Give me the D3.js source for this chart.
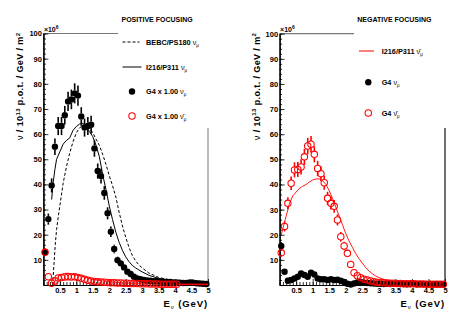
<!DOCTYPE html>
<html>
<head>
<meta charset="utf-8">
<script src="https://cdn.jsdelivr.net/npm/d3@7"></script>
<style>
  body { margin: 0; background: #fff; }
  text { font-family: 'Liberation Sans', Arial, Helvetica, sans-serif; font-weight: bold; }
</style>
</head>
<body>
<svg id="chart" width="473" height="320"></svg>
<script>
// bins of 0.1 GeV from 0 to 5
const binCenters = d3.range(50).map((i) => 0.05 + 0.1 * i);
const binWidth = 0.1;

const yMajor = [10, 20, 30, 40, 50, 60, 70, 80, 90, 100];
const xMajor = [0.5, 1, 1.5, 2, 2.5, 3, 3.5, 4, 4.5, 5];
const xLabels = ['0.5', '1', '1.5', '2', '2.5', '3', '3.5', '4', '4.5', '5'];

// positive focusing, G4 nu_mu
const posNu = [13, 26.2, 39.6, 55, 63.2, 63.2, 67.5, 73, 73.8, 76.2,
  75.3, 67, 62.6, 63.2, 63.7, 54.3, 45.3, 43.3, 36.6, 28.5,
  21.2, 14.3, 9.9, 8.6, 7, 5.3, 4.4, 3.3, 2.6, 2.3,
  2.0, 1.8, 1.7, 1.5, 1.6, 1.4, 1.3, 1.2, 1.2, 1.0,
  1.0, 0.9, 0.8, 0.8, 1.0, 0.9, 0.7, 0.6, 0.5, 0.4];
const posNuErr = [1.5, 2.2, 2.8, 3.3, 3.6, 3.6, 3.7, 3.8, 3.9, 4.0,
  4.0, 3.7, 3.6, 3.6, 3.6, 3.3, 3.0, 2.9, 2.7, 2.4,
  2.1, 1.7, 1.4, 1.3, 1.2, 1.0, 0.9, 0.8, 0.7, 0.7,
  0.6, 0.6, 0.6, 0.5, 0.6, 0.5, 0.5, 0.5, 0.5, 0.5,
  0.5, 0.4, 0.4, 0.4, 0.5, 0.4, 0.4, 0.4, 0.3, 0.3];

// positive focusing, G4 anti-nu_mu
const posNuBar = [13, 3.3, 0.7, 1.6, 2.8, 3.0, 3.2, 3.3, 3.2, 3.3,
  3.0, 2.7, 2.3, 1.9, 1.6, 1.4, 1.3, 1.2, 1.1, 1.0,
  0.9, 0.9, 0.8, 0.8, 0.7, 0.7, 0.6, 0.6, 0.6, 0.5,
  0.5, 0.5, 0.4, 0.4, 0.4, 0.3, 0.3, 0.3, 0.3, 0.3,
  0.3, 0, 0, 0, 0, 0, 0, 0, 0, 0];
const posNuBarErr = [1.5, 0.8, 0.4, 0.5, 0.7, 0.7, 0.7, 0.7, 0.7, 0.7,
  0.7, 0.6, 0.6, 0.5, 0.5, 0.5, 0.4, 0.4, 0.4, 0.4,
  0.3, 0.3, 0.3, 0.3, 0.3, 0.3, 0.3, 0.3, 0.3, 0.2,
  0.2, 0.2, 0.2, 0.2, 0.2, 0.2, 0.2, 0.2, 0.2, 0.2,
  0.2, 0, 0, 0, 0, 0, 0, 0, 0, 0];

// negative focusing, G4 nu_mu
const negNu = [15.5, 5.3, 1.7, 2.0, 2.6, 3.3, 4.6, 4.0, 3.3, 4.9,
  4.2, 2.6, 2.3, 2.3, 2.0, 2.3, 2.0, 2.1, 1.7, 1.2,
  0.5, 0.2, 0.6, 1.0, 1.1, 0.9, 0.8, 0.7, 0.6, 0.5,
  0.5, 0.4, 0.5, 0.4, 0.5, 0.5, 0.4, 0.4, 0.3, 0.4,
  0.5, 0.3, 0.4, 0.3, 0.3, 0.4, 0.3, 0.3, 0.3, 0.2];
const negNuErr = [1.6, 0.9, 0.5, 0.5, 0.6, 0.7, 0.8, 0.8, 0.7, 0.8,
  0.8, 0.6, 0.6, 0.6, 0.5, 0.6, 0.5, 0.5, 0.5, 0.4,
  0.3, 0.2, 0.3, 0.4, 0.4, 0.4, 0.3, 0.3, 0.3, 0.3,
  0.3, 0.2, 0.3, 0.2, 0.3, 0.3, 0.2, 0.2, 0.2, 0.2,
  0.3, 0.2, 0.2, 0.2, 0.2, 0.2, 0.2, 0.2, 0.2, 0.2];

// negative focusing, G4 anti-nu_mu
const negNuBar = [12.8, 23.3, 32.5, 40.5, 45.8, 46, 47, 51, 55.3, 56,
  52, 46.4, 44.3, 40.7, 34.5, 32.5, 31.3, 25.9, 19.2, 15.5,
  12.6, 8.2, 4.9, 3.7, 2.9, 2.3, 2.0, 1.6, 1.3, 1.1,
  1.0, 0.9, 0.8, 0.7, 0.7, 0.6, 0.6, 0.5, 0.5, 0.5,
  0.5, 0.4, 0.4, 0.4, 0.3, 0.3, 0.3, 0.3, 0.3, 0.3];
const negNuBarErr = [1.5, 2.0, 2.4, 2.7, 3.0, 3.0, 3.0, 3.2, 3.3, 3.3,
  3.2, 3.0, 2.9, 2.8, 2.6, 2.5, 2.5, 2.2, 1.9, 1.7,
  1.5, 1.2, 0.9, 0.8, 0.7, 0.6, 0.6, 0.5, 0.5, 0.4,
  0.4, 0.4, 0.4, 0.3, 0.3, 0.3, 0.3, 0.3, 0.3, 0.3,
  0.3, 0.3, 0.3, 0.3, 0.2, 0.2, 0.2, 0.2, 0.2, 0.2];

// reference curves [E, value]
const bebcPS180Nu = [[0.28, 0], [0.32, 8], [0.36, 16], [0.4, 22], [0.45, 27], [0.5, 31.5],
  [0.6, 40.5], [0.7, 47], [0.8, 52.5], [0.9, 57], [1.0, 60.5], [1.1, 62.5], [1.2, 63.5],
  [1.3, 63.6], [1.4, 62.5], [1.5, 60.5], [1.6, 58], [1.7, 55.5], [1.8, 52], [1.9, 48],
  [2.0, 43.5], [2.1, 39.5], [2.2, 35], [2.3, 29], [2.4, 23.5], [2.5, 19], [2.6, 15],
  [2.7, 11.8], [2.8, 9.6], [2.9, 8], [3.0, 6.8], [3.2, 4.8], [3.5, 3], [4.0, 1.6],
  [4.5, 1.0], [5.0, 0.6]];
const i216Nu = [[0.25, 34], [0.3, 41], [0.35, 46], [0.4, 50], [0.5, 53], [0.6, 56],
  [0.7, 57.5], [0.8, 58.5], [0.85, 60], [0.9, 61.5], [1.0, 63], [1.1, 64], [1.2, 64.3],
  [1.3, 63], [1.4, 61], [1.5, 59], [1.6, 55.5], [1.7, 51], [1.8, 44], [1.9, 38],
  [2.0, 31.5], [2.1, 26], [2.2, 21], [2.3, 17], [2.4, 13.8], [2.5, 11.2], [2.6, 9.3],
  [2.7, 7.8], [2.8, 6.8], [2.9, 6], [3.0, 5.2], [3.2, 3.9], [3.5, 2.6], [4.0, 1.5],
  [4.5, 1.0], [5.0, 0.7]];
const i216NuBarPos = [[0.27, 0.3], [0.35, 1.5], [0.4, 2.8], [0.5, 3.8], [0.6, 4.4],
  [0.7, 4.7], [0.8, 4.6], [0.9, 4.3], [1.0, 4.0], [1.2, 3.3], [1.4, 2.6], [1.6, 2.0],
  [1.8, 1.6], [2.0, 1.3], [2.5, 0.8], [3.0, 0.5], [4.0, 0.3], [5.0, 0.2]];
const i216NuBarNeg = [[0.05, 20], [0.1, 22.5], [0.2, 27.5], [0.3, 32.5], [0.4, 35.5],
  [0.5, 37], [0.6, 38.5], [0.7, 39.3], [0.8, 40], [0.9, 41], [1.0, 41.8], [1.1, 42.2],
  [1.2, 42.2], [1.3, 41.5], [1.4, 40], [1.5, 37.5], [1.6, 34.5], [1.7, 31], [1.8, 27.5],
  [1.9, 24], [2.0, 20.5], [2.1, 17.5], [2.2, 15], [2.3, 12.5], [2.4, 10.5], [2.5, 8.7],
  [2.6, 7], [2.7, 5.6], [2.8, 4.5], [2.9, 3.6], [3.0, 3], [3.2, 2], [3.5, 1.3],
  [4.0, 0.9], [4.5, 0.7], [5.0, 0.6]];

const red = '#ff0000';
const svg = d3.select('#chart');
svg.append('rect').attr('width', 473).attr('height', 320).attr('fill', '#fff');

function drawPanel(p) {
  const x = d3.scaleLinear().domain([0, 5]).range([p.left, p.right]);
  const y = d3.scaleLinear().domain([0, 100]).range([285, p.top]);
  const g = svg.append('g');

  // frame pieces left visible next to the legend
  g.append('line')
    .attr('x1', p.left).attr('x2', p.topEnd)
    .attr('y1', y(100)).attr('y2', y(100))
    .attr('stroke', '#777').attr('stroke-width', 1.2);
  g.append('line')
    .attr('x1', x(5)).attr('x2', x(5))
    .attr('y1', 128).attr('y2', 285)
    .attr('stroke', p.frameColor).attr('stroke-width', 1.2);

  // axes, ROOT style ticks pointing inside
  const yMinorAxis = g.append('g').attr('transform', `translate(${p.left},0)`)
    .call(d3.axisLeft(y).tickValues(d3.range(0, 101, 2)).tickSize(-2.5).tickSizeOuter(0).tickFormat(''));
  const yAxis = g.append('g').attr('transform', `translate(${p.left},0)`)
    .call(d3.axisLeft(y).tickValues(yMajor).tickSize(-5).tickSizeOuter(0).tickPadding(1.5).tickFormat(d3.format('d')));
  const xMinorAxis = g.append('g').attr('transform', 'translate(0,285)')
    .call(d3.axisBottom(x).tickValues(d3.range(0, 5.01, 0.1)).tickSize(-3).tickSizeOuter(0).tickFormat(''));
  const xAxis = g.append('g').attr('transform', 'translate(0,285)')
    .call(d3.axisBottom(x).tickValues(xMajor).tickSize(-6).tickSizeOuter(0).tickPadding(4)
      .tickFormat((d, i) => xLabels[i]));
  [yMinorAxis, yAxis, xMinorAxis, xAxis].forEach((a) => {
    a.selectAll('line').attr('stroke', '#000').attr('stroke-width', 0.8);
    a.select('.domain').attr('stroke', '#000').attr('stroke-width', 1.2);
    a.selectAll('text').attr('font-size', 7.5).attr('font-family', null).attr('fill', '#000');
  });
  xAxis.selectAll('text').attr('dy', '0.5em');

  // x10^6 multiplier
  const mult = g.append('text').attr('x', p.left + 0.5).attr('y', y(100) - 1.5).attr('font-size', 7);
  mult.append('tspan').text('\u00d710');
  mult.append('tspan').attr('font-size', 5).attr('dy', -3).text('6');

  // y title
  const yt = g.append('text')
    .attr('transform', `translate(${p.left - 20},${y(100) - 1}) rotate(-90)`)
    .attr('text-anchor', 'end').attr('font-size', 9).attr('letter-spacing', 0.4);
  yt.append('tspan').attr('font-weight', 'normal').text('\u03bd');
  yt.append('tspan').text(' / 10');
  yt.append('tspan').attr('font-size', 6).attr('dy', -3.5).text('13');
  yt.append('tspan').attr('dy', 3.5).text(' p.o.t. / GeV / m');
  yt.append('tspan').attr('font-size', 6).attr('dy', -3.5).text('2');

  // x title
  const xt = g.append('text').attr('x', x(5)).attr('y', 307).attr('text-anchor', 'end')
    .attr('font-size', 9.5).attr('letter-spacing', 0.9);
  xt.append('tspan').text('E');
  xt.append('tspan').attr('font-size', 6).attr('dy', 2).attr('font-weight', 'normal').text('\u03bd');
  xt.append('tspan').attr('dy', -2).text('  (GeV)');

  const line = d3.line().x((d) => x(d[0])).y((d) => y(d[1]));
  p.curves.forEach((c) => {
    g.append('path').datum(c.data).attr('d', line)
      .attr('fill', 'none').attr('stroke', c.color).attr('stroke-width', c.width || 1)
      .attr('stroke-dasharray', c.dash || null);
  });

  p.points.forEach((s) => {
    const r = s.open ? 3.2 : 3.2;
    const pts = binCenters.map((e, i) => ({ e, v: s.values[i], err: s.errors[i] }));
    const pg = g.append('g');
    // empty bins only show their bin-wide bar on the axis
    pg.selectAll('line.ex').data(pts.filter((d) => d.v === 0)).join('line')
      .attr('x1', (d) => x(d.e - binWidth / 2)).attr('x2', (d) => x(d.e + binWidth / 2))
      .attr('y1', (d) => y(d.v) - 0.6).attr('y2', (d) => y(d.v) - 0.6)
      .attr('stroke', s.color).attr('stroke-width', 1.6);
    // error bars stop at the marker edge
    const withErr = pts.filter((d) => d.v > 0 && y(d.v - d.err) - y(d.v + d.err) > 2 * r);
    pg.selectAll('line.up').data(withErr).join('line')
      .attr('x1', (d) => x(d.e)).attr('x2', (d) => x(d.e))
      .attr('y1', (d) => y(d.v) - r).attr('y2', (d) => y(d.v + d.err))
      .attr('stroke', s.color).attr('stroke-width', 1.6);
    pg.selectAll('line.down').data(withErr).join('line')
      .attr('x1', (d) => x(d.e)).attr('x2', (d) => x(d.e))
      .attr('y1', (d) => y(d.v) + r).attr('y2', (d) => y(d.v - d.err))
      .attr('stroke', s.color).attr('stroke-width', 1.6);
    pg.selectAll('circle').data(pts.filter((d) => d.v > 0)).join('circle')
      .attr('cx', (d) => x(d.e)).attr('cy', (d) => y(d.v))
      .attr('r', r)
      .attr('fill', s.open ? 'none' : s.color)
      .attr('stroke', s.color).attr('stroke-width', s.open ? 1.05 : 0);
  });

  // legend
  const lg = svg.append('g');
  lg.append('text').attr('x', p.legendTitleX).attr('y', 21.5).attr('font-size', 7).text(p.title);
  p.legend.forEach((item) => {
    if (item.kind === 'line') {
      lg.append('line').attr('x1', item.sx).attr('x2', item.sx + item.len)
        .attr('y1', item.y).attr('y2', item.y)
        .attr('stroke', item.color).attr('stroke-width', 1)
        .attr('stroke-dasharray', item.dash || null);
    } else {
      lg.append('circle').attr('cx', item.sx).attr('cy', item.y).attr('r', 3.2)
        .attr('fill', item.open ? 'none' : item.color)
        .attr('stroke', item.color).attr('stroke-width', item.open ? 1.05 : 0);
    }
    const t = lg.append('text').attr('x', p.legendTextX).attr('y', item.y + 2.6).attr('font-size', 7.3);
    t.append('tspan').text(item.label);
    t.append('tspan').attr('font-weight', 'normal').text(item.bar ? ' \u03bd\u0304' : ' \u03bd');
    t.append('tspan').attr('font-size', 4.5).attr('dy', 2).attr('font-weight', 'normal').text('\u03bc');
  });
}

drawPanel({
  left: 43.4, right: 208, top: 33.5, topEnd: 118, frameColor: '#8a8a8a',
  title: 'POSITIVE FOCUSING', legendTitleX: 121.5, legendTextX: 146,
  curves: [
    { data: bebcPS180Nu, color: '#000', dash: '3,2' },
    { data: i216Nu, color: '#000' },
    { data: i216NuBarPos, color: red, width: 0.8 }
  ],
  points: [
    { values: posNu, errors: posNuErr, color: '#000', open: false },
    { values: posNuBar, errors: posNuBarErr, color: red, open: true }
  ],
  legend: [
    { kind: 'line', sx: 122.5, len: 17, y: 42, color: '#000', dash: '3,2', label: 'BEBC/PS180' },
    { kind: 'line', sx: 122.5, len: 19, y: 67, color: '#000', label: 'I216/P311' },
    { kind: 'marker', sx: 132, y: 91.5, color: '#000', label: 'G4 x 1.00' },
    { kind: 'marker', sx: 132, y: 116, color: red, open: true, bar: true, label: 'G4 x 1.00' }
  ]
});

drawPanel({
  left: 279.6, right: 445, top: 33.7, topEnd: 354, frameColor: '#111',
  title: 'NEGATIVE FOCUSING', legendTitleX: 357.3, legendTextX: 381.7,
  curves: [
    { data: i216NuBarNeg, color: red, width: 0.9 }
  ],
  points: [
    { values: negNu, errors: negNuErr, color: '#000', open: false },
    { values: negNuBar, errors: negNuBarErr, color: red, open: true }
  ],
  legend: [
    { kind: 'line', sx: 359, len: 15, y: 51, color: red, bar: true, label: 'I216/P311' },
    { kind: 'marker', sx: 368.3, y: 82.3, color: '#000', label: 'G4' },
    { kind: 'marker', sx: 368.3, y: 113, color: red, open: true, bar: true, label: 'G4' }
  ]
});
</script>
</body>
</html>
